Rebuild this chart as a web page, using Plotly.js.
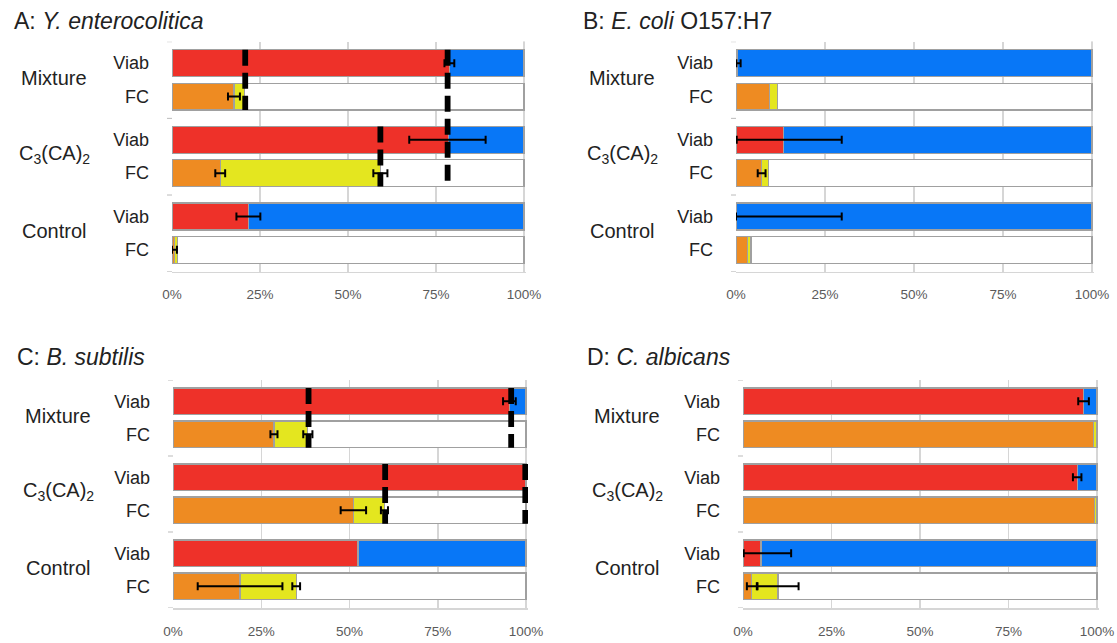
<!DOCTYPE html>
<html>
<head>
<meta charset="utf-8">
<script src="https://cdn.plot.ly/plotly-3.0.1.min.js"></script>
<style>html,body{margin:0;padding:0;background:#fff;}#chart{width:1117px;height:643px;}</style>
</head>
<body>
<div id="chart"></div>
<script>
// ---------- shared labels ----------
const xTickVals = [0, 25, 50, 75, 100];
const xTickText = ['0%', '25%', '50%', '75%', '100%'];
const groupNames = ['Mixture', 'C<sub>3</sub>(CA)<sub>2</sub>', 'Control'];
const rowNames = ['Viab', 'FC'];

// ---------- Panel A: Y. enterocolitica ----------
const titleA = 'A: <i>Y. enterocolitica</i>';
const redA = [78.8, 78.5, 21.7];
const redErrPlusA = [1.4, 10.6, 3.4];
const redErrMinusA = [1.4, 11.1, 3.4];
const orangeA = [17.6, 13.7, 0.7];
const yellowA = [3.1, 45.5, 0.8];
const orangeErrA = [1.7, 1.4, 0.7];
const yellowErrA = [null, 2.0, null];
const dashXA = [20.8, 78.3, 59.2];
const dashFromA = [0, 0, 1];
const dashToA = [0, 1, 1];

// ---------- Panel B: E. coli O157:H7 ----------
const titleB = 'B: <i>E. coli</i> O157:H7';
const redB = [0.4, 13.4, 0.2];
const redErrPlusB = [0.9, 16.3, 29.5];
const redErrMinusB = [0.3, 13.2, 0.2];
const orangeB = [9.5, 7.2, 3.2];
const yellowB = [2.2, 2.0, 1.0];
const orangeErrB = [null, 1.1, null];
const yellowErrB = [null, null, null];
const dashXB = [];
const dashFromB = [];
const dashToB = [];

// ---------- Panel C: B. subtilis ----------
const titleC = 'C: <i>B. subtilis</i>';
const redC = [95.3, 99.8, 52.4];
const redErrPlusC = [1.8, null, null];
const redErrMinusC = [1.8, null, null];
const orangeC = [28.6, 51.1, 19.0];
const yellowC = [9.6, 8.8, 15.9];
const orangeErrC = [1.0, 3.6, 12.0];
const yellowErrC = [1.3, 1.0, 1.1];
const dashXC = [38.4, 95.8, 60.1, 99.8];
const dashFromC = [0, 0, 1, 1];
const dashToC = [0, 0, 1, 1];

// ---------- Panel D: C. albicans ----------
const titleD = 'D: <i>C. albicans</i>';
const redD = [96.2, 94.4, 5.1];
const redErrPlusD = [1.5, 1.2, 8.5];
const redErrMinusD = [1.5, 1.2, 4.9];
const orangeD = [99.1, 99.2, 2.5];
const yellowD = [0.9, 0.8, 7.4];
const orangeErrD = [null, null, 1.4];
const yellowErrD = [null, null, 5.8];
const dashXD = [];
const dashFromD = [];
const dashToD = [];

// ---------- style ----------
const FONT = 'Liberation Sans, Arial, Helvetica, sans-serif';
const C_RED = '#ee3129', C_BLUE = '#0877f7', C_ORANGE = '#ee8b22', C_YELLOW = '#e4e61f';
const BORDER = '#a0a0a0';
const VIAB_OFF = 0.28, FC_OFF = 0.715, BAR_W = 0.35;
const XMAX = 100.6;
const W = 1117, H = 643;

const panels = [
  {title: titleA, red: redA, rp: redErrPlusA, rm: redErrMinusA, orange: orangeA, yellow: yellowA, oe: orangeErrA, ye: yellowErrA, dx: dashXA, df: dashFromA, dt: dashToA,
   xd: [172, 524], yd: [41.7, 271.7], titlePos: [12, 21], groupX: 54},
  {title: titleB, red: redB, rp: redErrPlusB, rm: redErrMinusB, orange: orangeB, yellow: yellowB, oe: orangeErrB, ye: yellowErrB, dx: dashXB, df: dashFromB, dt: dashToB,
   xd: [736, 1092], yd: [41.7, 271.7], titlePos: [581, 21], groupX: 622},
  {title: titleC, red: redC, rp: redErrPlusC, rm: redErrMinusC, orange: orangeC, yellow: yellowC, oe: orangeErrC, ye: yellowErrC, dx: dashXC, df: dashFromC, dt: dashToC,
   xd: [173, 526], yd: [380, 608], titlePos: [15, 357], groupX: 58},
  {title: titleD, red: redD, rp: redErrPlusD, rm: redErrMinusD, orange: orangeD, yellow: yellowD, oe: orangeErrD, ye: yellowErrD, dx: dashXD, df: dashFromD, dt: dashToD,
   xd: [743, 1097], yd: [380, 608], titlePos: [585, 357], groupX: 627}
];

const traces = [];
const layout = {
  width: W, height: H, margin: {l: 0, r: 0, t: 0, b: 0},
  paper_bgcolor: '#fff', plot_bgcolor: 'rgba(0,0,0,0)',
  barmode: 'stack', showlegend: false,
  font: {family: FONT, color: '#222'},
  annotations: [], shapes: []
};

panels.forEach((p, i) => {
  const k = i + 1;
  const xa = 'x' + (k === 1 ? '' : k), ya = 'y' + (k === 1 ? '' : k);
  const xName = 'xaxis' + (k === 1 ? '' : k), yName = 'yaxis' + (k === 1 ? '' : k);
  const idx = [0, 1, 2];
  const viabY = idx.map(g => g + VIAB_OFF);
  const fcY = idx.map(g => g + FC_OFF);
  const bar = (x, y, color) => ({
    type: 'bar', orientation: 'h', x: x, y: y, width: BAR_W, xaxis: xa, yaxis: ya,
    marker: {color: color, line: {color: BORDER, width: 1.2}}, hoverinfo: 'x'
  });
  traces.push(bar(p.red, viabY, C_RED));
  traces.push(bar(p.red.map(v => 100 - v), viabY, C_BLUE));
  traces.push(bar(p.orange, fcY, C_ORANGE));
  traces.push(bar(p.yellow, fcY, C_YELLOW));
  traces.push(bar(p.orange.map((v, j) => 100 - v - p.yellow[j]), fcY, '#ffffff'));

  // dashed reference lines
  p.dx.forEach((dx, j) => {
    traces.push({
      type: 'scatter', mode: 'lines', xaxis: xa, yaxis: ya,
      x: [dx, dx], y: [p.df[j] + VIAB_OFF - BAR_W / 2, p.dt[j] + FC_OFF + BAR_W / 2],
      line: {color: '#000', width: 5.8, dash: '16px,7px'}, hoverinfo: 'skip'
    });
  });

  // error bars
  const errTrace = (xs, ys, plus, minus) => {
    const X = [], Y = [], P = [], M = [];
    plus.forEach((e, j) => {
      if (e === null) return;
      X.push(xs[j]); Y.push(ys[j]); P.push(e); M.push(minus ? minus[j] : e);
    });
    if (!X.length) return;
    traces.push({
      type: 'scatter', mode: 'markers', xaxis: xa, yaxis: ya, x: X, y: Y,
      marker: {size: 1, color: 'rgba(0,0,0,0)'}, hoverinfo: 'skip',
      error_x: {type: 'data', symmetric: false, array: P, arrayminus: M, color: '#000', thickness: 2, width: 4}
    });
  };
  errTrace(p.red, viabY, p.rp, p.rm);
  errTrace(p.orange, fcY, p.oe, null);
  errTrace(p.orange.map((v, j) => v + p.yellow[j]), fcY, p.ye, null);

  const x1 = p.xd[0] + (p.xd[1] - p.xd[0]) * XMAX / 100;
  layout[xName] = {
    domain: [p.xd[0] / W, Math.min(1, x1 / W)], anchor: ya, range: [0, XMAX], fixedrange: true,
    tickvals: xTickVals, ticktext: xTickText, ticks: '', ticklabelstandoff: 10,
    tickfont: {size: 13.5, color: '#5a5a5a', family: FONT},
    showgrid: true, gridcolor: '#d6d6d6', gridwidth: 1.5,
    zeroline: false, showline: true, linecolor: '#d6d6d6', linewidth: 1.5
  };
  layout[yName] = {
    domain: [1 - p.yd[1] / H, 1 - p.yd[0] / H], anchor: xa, range: [3, 0], fixedrange: true,
    tickvals: idx.flatMap(g => [g + VIAB_OFF, g + FC_OFF]),
    ticktext: idx.flatMap(() => rowNames), ticks: '', ticklabelstandoff: 22,
    tickfont: {size: 18, color: '#222', family: FONT},
    showgrid: false, zeroline: false, showline: false
  };
  // small group-separator ticks on the left edge
  const tickFrac = 5 / (x1 - p.xd[0]);
  [0, 1, 2, 3].forEach(b => {
    layout.shapes.push({type: 'line', xref: xa + ' domain', yref: ya, x0: -tickFrac, x1: 0, y0: b, y1: b,
      line: {color: '#bbbbbb', width: 1}});
  });
  // 100% boundary line
  layout.shapes.push({type: 'line', xref: xa, yref: ya + ' domain', x0: 100, x1: 100, y0: 0, y1: 1,
    line: {color: '#9f9f9f', width: 2}, layer: 'below'});
  // title
  layout.annotations.push({xref: 'paper', yref: 'paper', x: p.titlePos[0] / W, y: 1 - p.titlePos[1] / H,
    xanchor: 'left', yanchor: 'middle', showarrow: false, text: p.title,
    font: {size: 23, color: '#222', family: FONT}});
  // group labels
  groupNames.forEach((gname, g) => {
    layout.annotations.push({xref: 'paper', yref: ya, x: p.groupX / W, y: g + 0.47,
      xanchor: 'center', yanchor: 'middle', showarrow: false, text: gname,
      font: {size: 20, color: '#222', family: FONT}});
  });
});

Plotly.newPlot('chart', traces, layout, {displayModeBar: false, staticPlot: true});
</script>
</body>
</html>
